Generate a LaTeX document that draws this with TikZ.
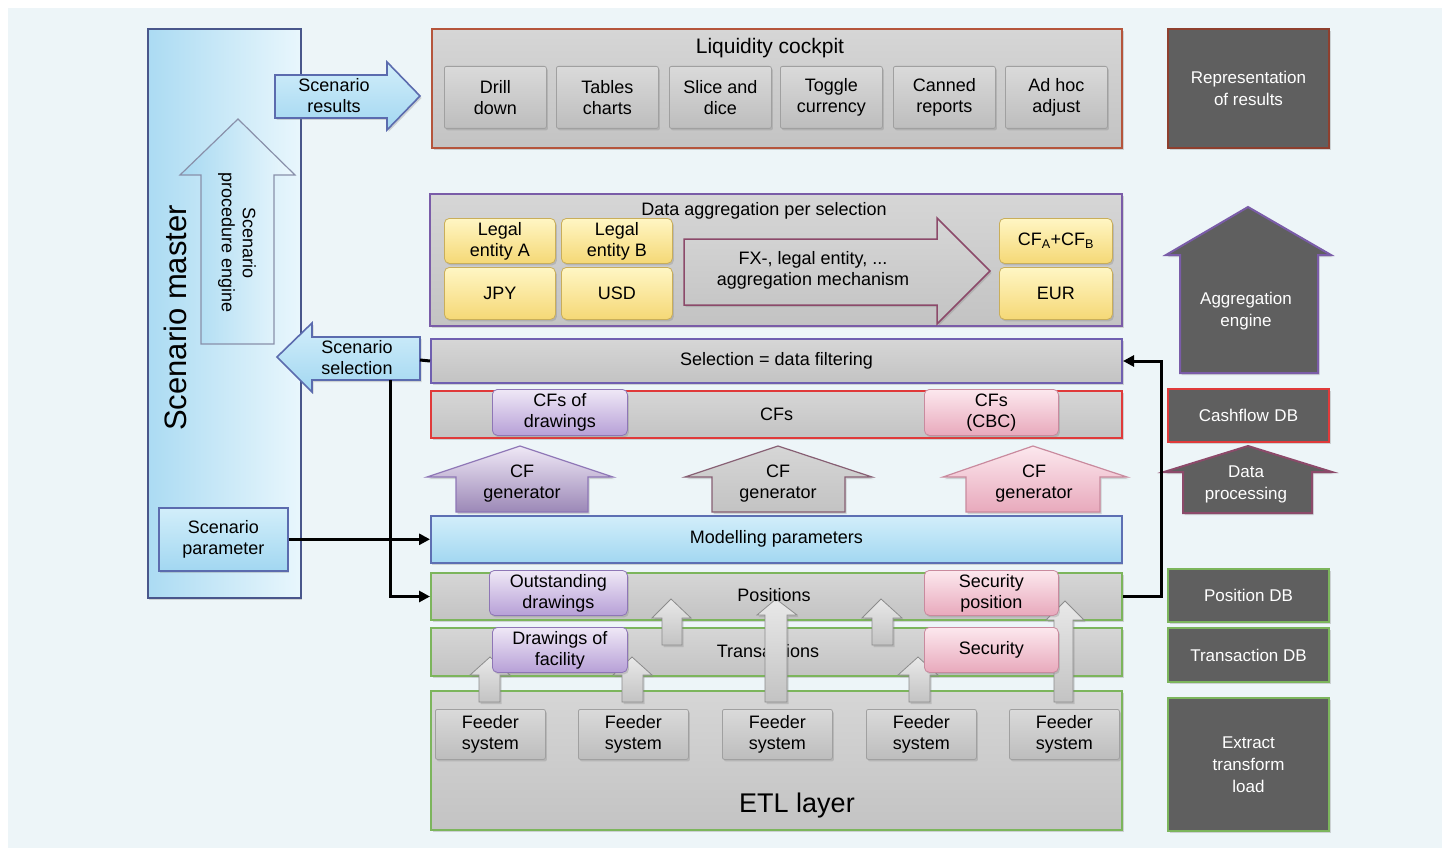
\documentclass[tikz,border=0pt]{standalone}
\usepackage{fontspec}
\setmainfont{Liberation Sans}
\usetikzlibrary{arrows.meta,shadows}

\definecolor{bgc}{HTML}{EDF5F8}
\definecolor{gtop}{HTML}{D6D6D6}
\definecolor{gbot}{HTML}{C3C3C3}
\definecolor{btntop}{HTML}{DADADA}
\definecolor{btnbot}{HTML}{BDBDBD}
\definecolor{btnline}{HTML}{A0A0A0}
\definecolor{lcred}{HTML}{B5553C}
\definecolor{aggpur}{HTML}{7A5CA8}
\definecolor{selpur}{HTML}{6F5FB0}
\definecolor{cfred}{HTML}{E03A3A}
\definecolor{modblue}{HTML}{5D6FB3}
\definecolor{grn}{HTML}{7CB55C}
\definecolor{ytop}{HTML}{FFF6C4}
\definecolor{ybot}{HTML}{F5D876}
\definecolor{yline}{HTML}{C9AE5A}
\definecolor{ptop}{HTML}{EFE8F6}
\definecolor{pbot}{HTML}{B7A0D7}
\definecolor{pline}{HTML}{8E76B6}
\definecolor{ktop}{HTML}{FCE8EE}
\definecolor{kbot}{HTML}{E8A9BC}
\definecolor{kline}{HTML}{C98A9E}
\definecolor{darkg}{HTML}{5F5F5F}
\definecolor{bltop}{HTML}{D2EEFA}
\definecolor{blbot}{HTML}{A2D7F1}
\definecolor{blline}{HTML}{5B6BAE}
\definecolor{maroon}{HTML}{8C4A6A}
\definecolor{brownred}{HTML}{8E3F2E}

\newcommand{\fs}{\fontsize{18}{21}\selectfont}
\newcommand{\fsr}{\fontsize{17}{22}\selectfont}

% box given by its corners: name, x1, y1, x2, y2, style, text
\newcommand{\rect}[7]{\node[#6, anchor=north west, minimum width={(#4)-(#2)}, minimum height={(#5)-(#3)}] (#1) at (#2,#3) {#7};}
% upward block arrow: style, head left, shaft left, tip x, shaft right, head right, tip y, head base y, bottom y
\newcommand{\upblock}[9]{\path[#1] (#3,#9) -- (#3,#8) -- (#2,#8) -- (#4,#7) -- (#6,#8) -- (#5,#8) -- (#5,#9) -- cycle;}

\begin{document}
\begin{tikzpicture}[x=1pt,y=-1pt,font=\fs,
  shadowed/.style={drop shadow={opacity=0.3,shadow xshift=1.5pt,shadow yshift=-2pt}},
  panel/.style={shade,top color=gtop,bottom color=gbot,line width=2pt,inner sep=0pt,align=center,shadowed},
  btn/.style={shade,top color=btntop,bottom color=btnbot,draw=btnline,line width=0.8pt,rounded corners=2pt,inner sep=0pt,align=center,shadowed},
  ybox/.style={btn,top color=ytop,bottom color=ybot,draw=yline,rounded corners=5pt},
  pbox/.style={btn,top color=ptop,bottom color=pbot,draw=pline,rounded corners=5pt},
  kbox/.style={btn,top color=ktop,bottom color=kbot,draw=kline,rounded corners=5pt},
  bluebox/.style={shade,top color=bltop,bottom color=blbot,draw=blline,line width=1.6pt,inner sep=0pt,align=center,shadowed},
  darkbox/.style={fill=darkg,line width=2pt,text=white,align=center,inner sep=0pt,font=\fsr,shadowed},
  grayarrow/.style={shade,top color=gtop!55!white,bottom color=gbot,draw=black!45,line width=0.8pt,shadowed},
  conn/.style={line width=3pt,-{Triangle[length=11pt,width=11pt]}},
  link/.style={line width=3pt},
  label/.style={align=center,inner sep=0pt}]

\useasboundingbox (0,0) rectangle (1442,848);
\fill[white] (0,0) rectangle (1442,848);
\fill[bgc] (8,8) rectangle (1442,848);

% ---------------- scenario master column ----------------
\rect{sm}{147}{28}{300}{597}{shade,left color=blbot!90!white,right color=bltop!50!white,draw=blline!80!black,line width=1.8pt,shadowed}{}
\node[rotate=90,font=\fontsize{31}{36}\selectfont] (smt) at (175,318) {Scenario master};

\upblock{shade,left color=blbot!95!white,right color=bltop!40!white,draw=black!35!blline!60,line width=1.2pt}{180}{201}{238}{274}{295}{119}{175}{344}
\node[label,rotate=-90] (spe) at (237,243) {Scenario\\procedure engine};

\path[shade,top color=bltop,bottom color=blbot,draw=blline,line width=1.6pt,shadowed]
  (275,75) -- (387,75) -- (387,62) -- (420,96) -- (387,130) -- (387,118) -- (275,118) -- cycle;
\node[label] (sres) at (334,96) {Scenario\\results};

\path[shade,top color=bltop,bottom color=blbot,draw=blline,line width=1.6pt,shadowed]
  (420,337) -- (312,337) -- (312,323) -- (277,357) -- (312,392) -- (312,380) -- (420,380) -- cycle;
\node[label] (ssel) at (357,358) {Scenario\\selection};
\coordinate (selfoot) at (390,380);
\coordinate (seltail) at (420,360);

\rect{spar}{158}{507}{287}{570}{bluebox}{Scenario\\parameter}

% ---------------- liquidity cockpit ----------------
\rect{lc}{431}{28}{1121}{147}{panel,draw=lcred}{}
\node[font=\fontsize{21}{24}\selectfont] (lct) at (770,48) {Liquidity cockpit};
\rect{b1}{444}{66}{546}{128}{btn}{Drill\\down}
\rect{b2}{556}{66}{658}{128}{btn}{Tables\\charts}
\rect{b3}{669}{66}{771}{128}{btn}{Slice and\\dice}
\rect{b4}{780}{66}{882}{128}{btn}{Toggle\\currency}
\rect{b5}{893}{66}{995}{128}{btn}{Canned\\reports}
\rect{b6}{1005}{66}{1107}{128}{btn}{Ad hoc\\adjust}

% ---------------- data aggregation ----------------
\rect{da}{429}{193}{1121}{325}{panel,draw=aggpur}{}
\node (dat) at (764,211) {Data aggregation per selection};
\rect{lea}{444}{218}{555}{263}{ybox}{Legal\\entity A}
\rect{leb}{561}{218}{672}{263}{ybox}{Legal\\entity B}
\rect{jpy}{444}{267}{555}{319}{ybox}{JPY}
\rect{usd}{561}{267}{672}{319}{ybox}{USD}
\rect{cfab}{999}{218}{1112}{263}{ybox}{CF\textsubscript{A}+CF\textsubscript{B}}
\rect{eur}{999}{267}{1112}{319}{ybox}{EUR}
\path[shade,top color=gtop,bottom color=gbot,draw=maroon,line width=1.5pt,shadowed]
  (684,239) -- (937,239) -- (937,218) -- (990,271) -- (937,324) -- (937,305) -- (684,305) -- cycle;
\node[label] (fx) at (813,270) {FX-, legal entity, ...\\aggregation mechanism};

% ---------------- selection and cash flows ----------------
\rect{sel}{430}{338}{1121}{382}{panel,draw=selpur}{Selection = data filtering}
\rect{cfs}{430}{390}{1121}{437}{panel,draw=cfred}{CFs}
\rect{cfd}{492}{389}{627}{435}{pbox}{CFs of\\drawings}
\rect{cfc}{924}{389}{1058}{435}{kbox}{CFs\\(CBC)}

\upblock{shade,top color=ptop,bottom color=pbot!85!black,draw=pline,line width=1.2pt,shadowed}{427}{456}{520}{588}{613}{446}{477}{512}
\node[label] (g1) at (522,484) {CF\\generator};
\upblock{shade,top color=gtop,bottom color=gbot,draw=maroon!60!gray,line width=1.2pt,shadowed}{685}{712}{778}{845}{872}{446}{477}{512}
\node[label] (g2) at (778,484) {CF\\generator};
\upblock{shade,top color=ktop,bottom color=kbot,draw=kline,line width=1.2pt,shadowed}{943}{966}{1033}{1100}{1127}{446}{477}{512}
\node[label] (g3) at (1034,484) {CF\\generator};

\rect{mod}{430}{515}{1121}{562}{bluebox,draw=modblue}{Modelling parameters}

% ---------------- positions, transactions, ETL ----------------
\rect{pos}{430}{572}{1121}{619}{panel,draw=grn}{}
\rect{tra}{430}{627}{1121}{675}{panel,draw=grn}{}
\rect{etl}{430}{690}{1121}{829}{panel,draw=grn}{}
\node[font=\fontsize{27}{30}\selectfont] (etlt) at (797,806) {ETL layer};
\node (trat) at (768,651) {Transactions};

\rect{f1}{435}{709}{545}{759}{btn}{Feeder\\system}
\rect{f2}{578}{709}{688}{759}{btn}{Feeder\\system}
\rect{f3}{722}{709}{832}{759}{btn}{Feeder\\system}
\rect{f4}{866}{709}{976}{759}{btn}{Feeder\\system}
\rect{f5}{1009}{709}{1119}{759}{btn}{Feeder\\system}

\upblock{grayarrow}{470}{479}{490}{500}{510}{657}{675}{702}
\upblock{grayarrow}{613}{622}{632}{643}{652}{657}{675}{702}
\upblock{grayarrow}{757}{765}{776}{787}{797}{599}{615}{702}
\upblock{grayarrow}{652}{662}{671}{682}{691}{599}{618}{645}
\upblock{grayarrow}{862}{872}{881}{893}{902}{599}{618}{645}
\upblock{grayarrow}{898}{909}{918}{930}{938}{657}{675}{702}
\upblock{grayarrow}{1046}{1054}{1065}{1073}{1084}{601}{620}{702}

\node (post) at (774,595) {Positions};
\rect{outd}{489}{570}{627}{615}{pbox}{Outstanding\\drawings}
\rect{dfac}{492}{627}{627}{672}{pbox}{Drawings of\\facility}
\rect{secp}{924}{570}{1058}{615}{kbox}{Security\\position}
\rect{sec}{924}{627}{1058}{672}{kbox}{Security}

% ---------------- right-hand layer captions ----------------
\rect{rep}{1167}{28}{1328}{147}{darkbox,draw=brownred}{Representation\\of results}
\path[fill=darkg,draw=aggpur,line width=2pt,shadowed]
  (1180,373) -- (1180,255) -- (1166,255) -- (1248,207) -- (1331,255) -- (1318,255) -- (1318,373) -- cycle;
\node[label,text=white,font=\fsr] (agg) at (1246,311) {Aggregation\\engine};
\rect{cdb}{1167}{388}{1328}{441}{darkbox,draw=cfred}{Cashflow\,\,DB}
\path[fill=darkg,draw=maroon,line width=2pt,shadowed]
  (1183,513) -- (1183,472) -- (1164,472) -- (1248,446) -- (1332,472) -- (1312,472) -- (1312,513) -- cycle;
\node[label,text=white,font=\fsr] (dpr) at (1246,484) {Data\\processing};
\rect{pdb}{1167}{568}{1328}{621}{darkbox,draw=grn}{Position DB}
\rect{tdb}{1167}{627}{1328}{681}{darkbox,draw=grn}{Transaction DB}
\rect{edb}{1167}{697}{1328}{830}{darkbox,draw=grn}{Extract\\transform\\load}

% ---------------- connectors ----------------
\draw[conn] (spar.east) -- (spar.east -| mod.west);
\draw[conn] (selfoot) |- (pos.west);
\draw[link] (sel.west) -- (seltail);
\draw[conn] (pos.east) -- ++(38,0) |- (sel.east);

\end{tikzpicture}
\end{document}
